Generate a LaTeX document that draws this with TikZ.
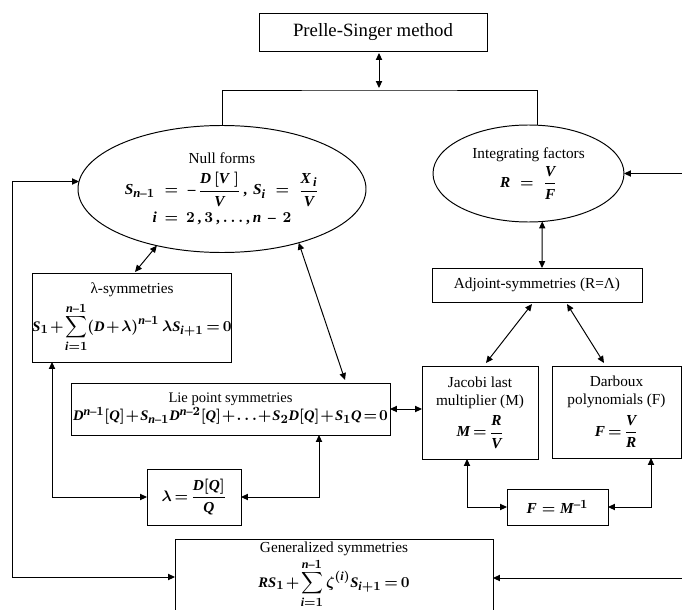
\documentclass[tikz,border=0pt]{standalone}
\usepackage{amsmath}
\usepackage{fontspec}
\setmainfont{Liberation Serif}
\usepackage[italic]{mathastext}
\usetikzlibrary{arrows.meta, calc, shapes.geometric}
\newcommand{\pxu}{0.72pt}
\newcommand{\tightmu}{\medmuskip=1.5mu\relax\thickmuskip=3mu\relax}
\newcommand{\tightermu}{\medmuskip=1mu\relax\thickmuskip=2mu\relax}
\tikzset{
    % Boxes and ellipses of the chart
    chartbox/.style={rectangle, draw, line width=0.7pt, inner sep=0pt, outer sep=0pt, align=center,
        font=\fontsize{11}{13}\selectfont\boldmath},
    chartellipse/.style={ellipse, draw, line width=0.7pt, inner sep=0pt, outer sep=0pt, align=center,
        font=\fontsize{11}{13}\selectfont\boldmath},
    % Connector styles
    plainline/.style={line width=0.7pt},
    oneway/.style={-{Triangle[length=5pt, width=4.5pt]}, line width=0.7pt},
    twoway/.style={{Triangle[length=5pt, width=4.5pt]}-{Triangle[length=5pt, width=4.5pt]}, line width=0.7pt},
}

\begin{document}
\begin{tikzpicture}[x=0.72pt, y=-0.72pt]
\useasboundingbox (0,0) rectangle (682,610);

% ============================================================
% Top: method and its two branches
% ============================================================
\node[chartbox, minimum width=228*\pxu, minimum height=38*\pxu, font=\fontsize{13.5}{16}\selectfont] (prelle) at (373,32) {Prelle-Singer method};

\node[chartellipse, minimum width=288*\pxu, minimum height=127*\pxu] (null) at (222,189)
    {Null forms\\[5pt] $S_{n-1}\;=\;-\,\dfrac{D\,[V\;]}{V}\,,\, S_i\;=\;\dfrac{X_{\,i}}{V}$\\[3pt] $i\,=\,2\,,3\,,\ldots,n\,-\,2$};
\node[chartellipse, minimum width=191*\pxu, minimum height=97*\pxu] (int) at (528.5,173.5)
    {Integrating factors\\[2pt] $R\;=\;\dfrac{V}{F}$};

\coordinate (brk) at (379,90);
\draw[twoway] ($(prelle.south)+(6,2)$) -- ($(brk)+(0,-2)$);
\draw[plainline] (null.north) |- (brk) -| ($(int.north)+(8.5,0)$);

% ============================================================
% Left side: symmetries
% ============================================================
\node[chartbox, minimum width=198*\pxu, minimum height=89*\pxu] (lsym) at (132,317.5)
    {λ-symmetries\\[3pt] {\fontsize{10.5}{13}\selectfont$\displaystyle\tightmu S_1+\sum_{i=1}^{n-1}(D+\lambda)^{n-1}\,\lambda S_{i+1}=0$}};
\node[chartbox, minimum width=319*\pxu, minimum height=52*\pxu, font=\fontsize{10.5}{13}\selectfont\boldmath] (lie) at (230.5,409)
    {Lie point symmetries\\ $\tightermu D^{n-1}[Q]+S_{n-1}D^{n-2}[Q]+{\ldots}+S_2D[Q]+S_1Q=0$};
\node[chartbox, minimum width=94*\pxu, minimum height=56*\pxu] (lamq) at (194,497)
    {$\tightmu\lambda=\dfrac{D[Q]}{Q}$};
\node[chartbox, minimum width=318*\pxu, minimum height=72*\pxu] (gen) at (334,575)
    {Generalized symmetries\\[1pt] {\fontsize{10.5}{13}\selectfont$\displaystyle\tightmu RS_1+\sum_{i=1}^{n-1}\zeta^{(i)}S_{i+1}=0$}};

\draw[twoway] (null.221.4) -- ($(lsym.north)+(3,-1)$);
\draw[twoway] (null.325) -- ($(lie.north)+(114.5,-3)$);
\draw[twoway] ($(lsym.south)+(-80,0)$) |- (lamq.west);
\draw[twoway] ($(lie.south)+(88.5,0)$) |- (lamq.east);

% ============================================================
% Right side: multipliers
% ============================================================
\node[chartbox, minimum width=210*\pxu, minimum height=34*\pxu] (adj) at (537,285) {Adjoint-symmetries (R=Λ)};
\node[chartbox, minimum width=116*\pxu, minimum height=93*\pxu] (jac) at (480,412.5)
    {Jacobi last\\multiplier (M)\\[4pt] $\tightmu M=\dfrac{R}{V}$};
\node[chartbox, minimum width=129*\pxu, minimum height=92*\pxu] (darb) at (616.5,412)
    {Darboux\\polynomials (F)\\[4pt] $\tightmu F=\dfrac{V}{R}$};
\node[chartbox, minimum width=101*\pxu, minimum height=36*\pxu] (finv) at (557.5,507) {$F=M^{-1}$};

\draw[twoway] (int.286) -- ($(adj.north)+(5,0)$);
\draw[twoway] ($(adj.south)+(-5,2)$) -- ($(jac.north)+(6,-3)$);
\draw[twoway] ($(adj.south)+(30,2)$) -- ($(darb.north)+(-12.5,-3)$);
\draw[twoway] (lie.east) -- (lie.east -| jac.west);
\draw[twoway] ($(jac.south)+(-13,0)$) |- (finv.west);
\draw[twoway] ($(darb.south)+(34.5,0)$) |- (finv.east);

% ============================================================
% Outer loops
% ============================================================
\coordinate (lcorner) at (12,577);
\coordinate (rtop) at (682,173.5);
\coordinate (rbot) at (682,578);
\draw[twoway] (null.177.6) -| (lcorner) -- (lcorner -| gen.west);
\draw[oneway] (rtop) -- (int.east);
\draw[oneway] (rbot) -- (rbot -| gen.east);

\end{tikzpicture}
\end{document}
